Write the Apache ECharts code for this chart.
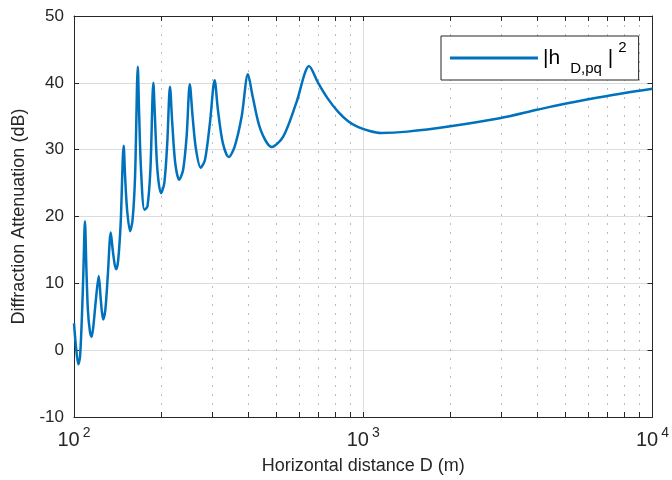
<!DOCTYPE html>
<html><head><meta charset="utf-8">
<script src="https://cdn.jsdelivr.net/npm/echarts@6/dist/echarts.min.js"></script>
<style>html,body{margin:0;padding:0;background:#fff}#c{width:672px;height:480px}</style>
</head><body><div id="c"></div>
<script>
const distance = [100,101.6,103.5,104.9,106.5,107.8,109.1,110.4,111.7,113.5,115.0,116.6,119.0,121.8,123.8,126.1,128.3,130.8,134.0,136.1,138.3,140.1,142.2,145.0,148.5,150.2,152.6,156.3,159.4,162.6,166.2,167.8,170.5,175.2,179.4,183.7,188.1,190.4,194.2,199.9,205.2,210.1,214.7,218.6,223.9,231.0,238.4,245.1,251.4,257.0,264.2,274.2,283.7,295.1,306.3,314.4,327.0,342.9,359.5,380.0,399.4,414.5,441.5,482.8,529.4,586.8,650.5,698.2,755.4,817.7,884.7,957.5,1052.7,1151,1421,2000,2963,4022,5029,6899,10000];
const attenuation = [4.0,0.5,-2.1,-1.0,5,12,19.3,12,6,2.8,2.0,3.5,7.5,11.1,7.5,4.6,6,11,17.6,15,12.8,12.1,13.5,19,30.6,26,21,17.8,19.5,26,42.4,36,27,21,21.5,27,40.0,35,27,23.5,25,31,39.4,34,28,25.5,27,32,39.8,35,30,27.3,28.5,34,40.4,36,31,28.9,30.5,35,41.3,38,33,30.4,32,37,42.5,40,37.6,35.7,34.3,33.4,32.8,32.5,32.7,33.5,34.7,36.0,36.9,38.0,39.1];
const yTicks = [-10,0,10,20,30,40,50];
const xMajorTicks = [100,1000,10000];
const xAllTicks = [100,200,300,400,500,600,700,800,900,1000,2000,3000,4000,5000,6000,7000,8000,9000,10000];
const seriesName = '|h D,pq|^2';

const FONT = 'Liberation Sans';
const TXT = '#262626';
const chart = echarts.init(document.getElementById('c'), null, {renderer:'canvas'});
const logAxisBase = {type:'log', logBase:10, min:xMajorTicks[0], max:xMajorTicks[xMajorTicks.length-1]};
chart.setOption({
  animation:false,
  backgroundColor:'#fff',
  grid:{left:74, right:15, top:16, bottom:62, containLabel:false},
  legend:{
    left:441, top:36, itemWidth:88, itemHeight:3, icon:'rect',
    padding:[4,12,4,9], borderColor:TXT, borderWidth:1, backgroundColor:'#fff', borderRadius:0,
    data:[{name:seriesName}],
    formatter:()=>'{a||h}{b|D,pq}{d||}{c|2}',
    textStyle:{fontFamily:FONT, color:'#000', rich:{
      a:{fontSize:21, fontFamily:FONT, color:'#000', lineHeight:36, verticalAlign:'middle'},
      d:{fontSize:21, fontFamily:FONT, color:'#000', lineHeight:36, verticalAlign:'middle', padding:[0,0,0,6]},
      b:{fontSize:15, fontFamily:FONT, color:'#000', lineHeight:16, verticalAlign:'bottom', padding:[0,0,0,10]},
      c:{fontSize:15, fontFamily:FONT, color:'#000', lineHeight:18, verticalAlign:'top', padding:[0,0,0,5]}
    }}
  },
  xAxis:[
    Object.assign({}, logAxisBase, {
      position:'bottom',
      axisLine:{show:true, onZero:false, lineStyle:{color:TXT, width:1}},
      axisTick:{show:true, inside:true, length:5, customValues:xAllTicks, lineStyle:{color:TXT}},
      axisLabel:{show:true, customValues:xMajorTicks, margin:9,
        formatter:v=>'{b|10}{s|'+Math.round(Math.log10(v))+'}',
        rich:{
          b:{fontSize:20, fontFamily:FONT, color:TXT, lineHeight:24, verticalAlign:'bottom'},
          s:{fontSize:14, fontFamily:FONT, color:TXT, lineHeight:24, verticalAlign:'top', padding:[0,0,0,3]}
        }},
      splitLine:{show:true, lineStyle:{color:'#bcbcbc', width:1, type:[2,7]}},
      name:'Horizontal distance D (m)', nameLocation:'middle', nameGap:40,
      nameTextStyle:{fontSize:18, fontFamily:FONT, color:TXT}
    }),
    Object.assign({}, logAxisBase, {
      position:'top',
      axisLine:{show:true, onZero:false, lineStyle:{color:TXT, width:1}},
      axisTick:{show:true, inside:true, length:5, customValues:xAllTicks, lineStyle:{color:TXT}},
      axisLabel:{show:false},
      splitLine:{show:false}
    }),
    Object.assign({}, logAxisBase, {
      position:'bottom',
      axisLine:{show:false},
      axisTick:{show:false},
      axisLabel:{show:false},
      splitLine:{show:true, lineStyle:{color:'#dcdcdc', width:1, type:'solid'}}
    })
  ],
  yAxis:[
    {type:'value', min:yTicks[0], max:yTicks[yTicks.length-1], interval:10, position:'left',
      axisLine:{show:true, onZero:false, lineStyle:{color:TXT, width:1}},
      axisTick:{show:true, inside:true, length:5, lineStyle:{color:TXT}},
      axisLabel:{fontSize:17, fontFamily:FONT, color:TXT, margin:10},
      splitLine:{show:true, lineStyle:{color:'#dcdcdc', width:1}},
      name:'Diffraction Attenuation (dB)', nameLocation:'middle', nameGap:45,
      nameTextStyle:{fontSize:18, fontFamily:FONT, color:TXT}
    },
    {type:'value', min:yTicks[0], max:yTicks[yTicks.length-1], interval:10, position:'right',
      axisLine:{show:true, onZero:false, lineStyle:{color:TXT, width:1}},
      axisTick:{show:true, inside:true, length:5, lineStyle:{color:TXT}},
      axisLabel:{show:false}, splitLine:{show:false}
    }
  ],
  series:[{
    name:seriesName, type:'line', xAxisIndex:0, yAxisIndex:0,
    data:distance.map((d,i)=>[d, attenuation[i]]),
    showSymbol:false, symbol:'none', smooth:0.3,
    lineStyle:{color:'#0072BD', width:2.5}, itemStyle:{color:'#0072BD'},
    z:5
  }]
});
</script></body></html>
